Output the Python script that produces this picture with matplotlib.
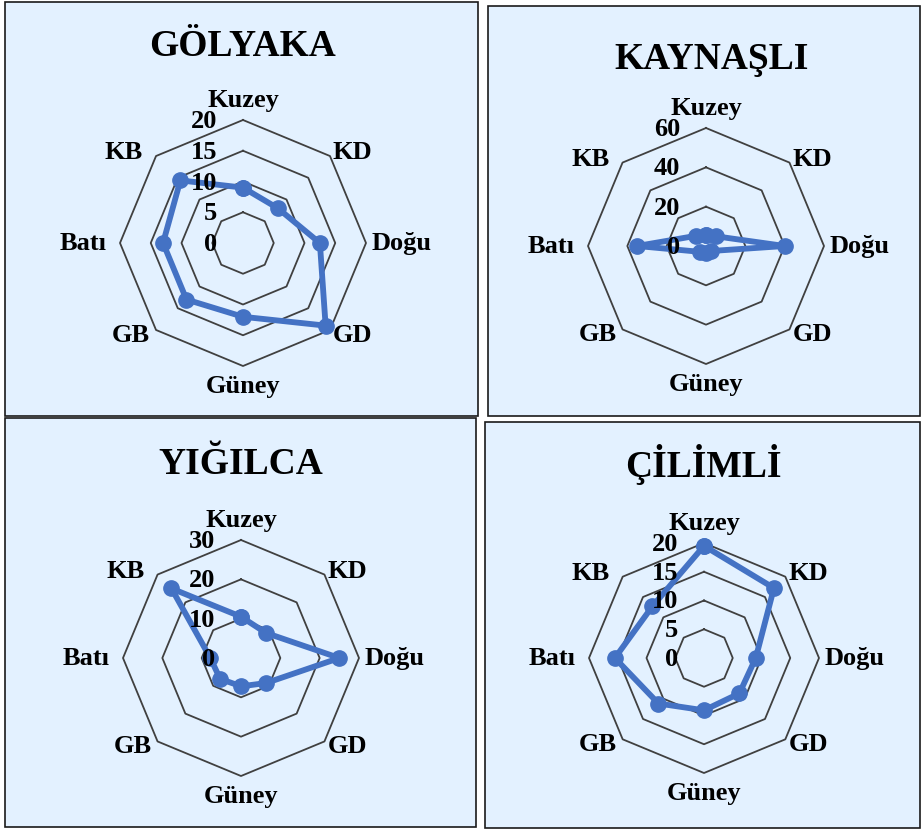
import numpy as np
import matplotlib
matplotlib.use("Agg")
import matplotlib.pyplot as plt
from matplotlib.patches import Rectangle
from matplotlib.transforms import offset_copy

plt.rcParams['font.family'] = ['Liberation Serif', 'DejaVu Serif']
plt.rcParams['font.weight'] = 'bold'

# ---- data ----
categories = ['Kuzey', 'KD', 'Doğu', 'GD', 'Güney', 'GB', 'Batı', 'KB']
titles = ['GÖLYAKA', 'KAYNAŞLI', 'YIĞILCA', 'ÇİLİMLİ']
golyaka = [9, 8, 12.5, 19, 12, 13, 13, 14.4]
kaynasli = [5.6, 7, 40, 3.6, 3.4, 4.2, 35, 7.3]
yigilca = [10.5, 9, 25, 9, 7.2, 7.5, 7.8, 25]
cilimli = [19.5, 17.2, 9, 8.7, 9.1, 11.2, 15.5, 12.7]
ticks_golyaka = [0, 5, 10, 15, 20]
ticks_kaynasli = [0, 20, 40, 60]
ticks_yigilca = [0, 10, 20, 30]
ticks_cilimli = [0, 5, 10, 15, 20]

series = [golyaka, kaynasli, yigilca, cilimli]
tick_sets = [ticks_golyaka, ticks_kaynasli, ticks_yigilca, ticks_cilimli]

W, H = 922, 831
fig = plt.figure(figsize=(W / 100, H / 100), dpi=100)
fig.patch.set_facecolor('white')

BG = '#E3F1FF'
LINE = '#4472C4'
GRID = '#404040'

# panel rectangles (left, top, right, bottom) in pixels
panels = [(5, 2, 478, 416), (488, 6, 920, 416), (5, 418, 476, 827), (485, 422, 920, 828)]
# radar centers and radii in pixels
centers = [(243, 243, 123), (706, 246, 118), (241, 658, 118), (704, 658, 115)]
title_pos = [(242, 56), (712, 69), (241, 474), (703, 477)]

for (l, t, r, b) in panels:
    fig.patches.append(Rectangle((l / W, 1 - b / H), (r - l) / W, (b - t) / H,
                                 transform=fig.transFigure, facecolor=BG,
                                 edgecolor='#1a1a1a', linewidth=1.2, zorder=-5))

angles = np.arange(len(categories)) * 2 * np.pi / len(categories)
closed_angles = np.concatenate([angles, angles[:1]])

label_offsets = {
    'Kuzey': ('center', 0, 13),
    'KD': ('left', 3, -3),
    'Doğu': ('left', 6, -7),
    'GD': ('left', 3, -12),
    'Güney': ('center', 0, -27),
    'GB': ('right', -6, -12),
    'Batı': ('right', -13, -7),
    'KB': ('right', -13, -3),
}

for i in range(4):
    cx, cy, R = centers[i]
    ax = fig.add_axes([(cx - R) / W, 1 - (cy + R) / H, 2 * R / W, 2 * R / H],
                      projection='polar')
    ax.set_zorder(2)
    ax.set_theta_zero_location('N')
    ax.set_theta_direction(-1)
    ticks = tick_sets[i]
    rmax = ticks[-1]
    ax.set_ylim(0, rmax)
    ax.patch.set_visible(False)
    ax.spines['polar'].set_visible(False)
    ax.grid(False)
    ax.set_xticks([])
    ax.set_yticks([])

    for tv in ticks[1:]:
        ax.plot(closed_angles, [tv] * len(closed_angles), color=GRID,
                linewidth=1.3, clip_on=False, zorder=1)

    vals = series[i]
    closed_vals = list(vals) + [vals[0]]
    ax.plot(closed_angles, closed_vals, color=LINE, linewidth=4.2,
            marker='o', markersize=11, clip_on=False, zorder=3)

    for tv in ticks:
        tr = offset_copy(ax.transData, fig=fig, x=-26, y=-8, units='dots')
        ax.text(0, tv, str(tv), transform=tr, ha='right', va='baseline',
                fontsize=19, fontweight='bold', color='black', zorder=4)

    for ang, cat in zip(angles, categories):
        ha, dx, dy = label_offsets[cat]
        tr = offset_copy(ax.transData, fig=fig, x=dx, y=dy, units='dots')
        ax.text(ang, rmax, cat, transform=tr, ha=ha, va='baseline',
                fontsize=19, fontweight='bold', color='black')

    tx, ty = title_pos[i]
    fig.text(tx / W, 1 - ty / H, titles[i], ha='center', va='baseline',
             fontsize=27, fontweight='bold', color='black')

fig.savefig('out.png', dpi=100, facecolor='white')
